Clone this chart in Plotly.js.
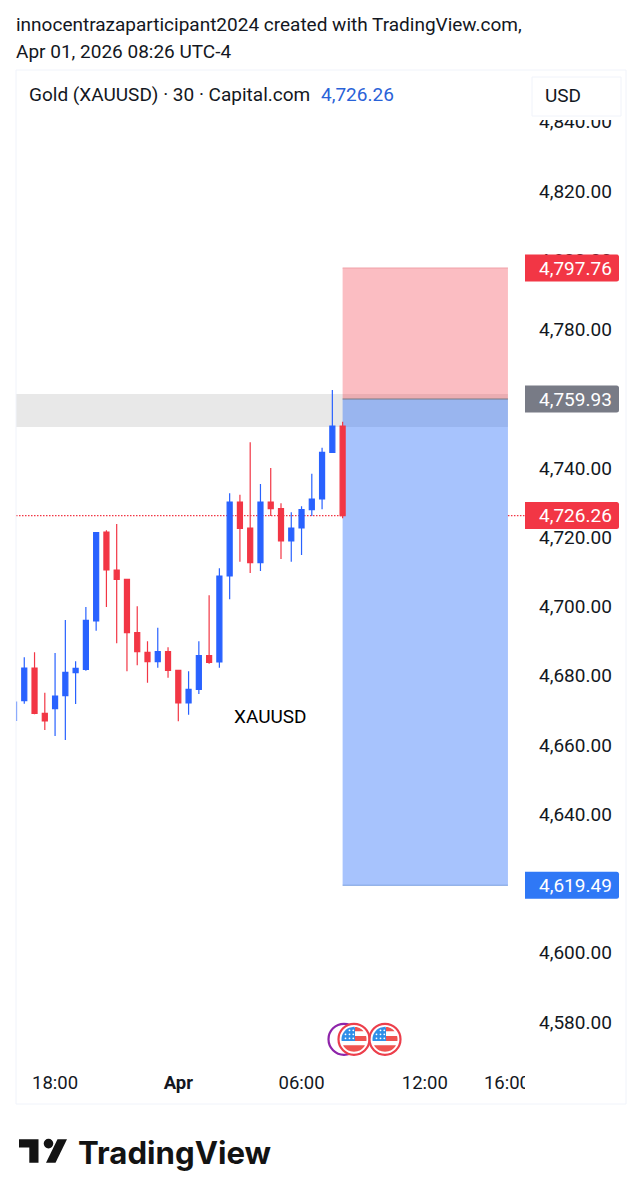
<!DOCTYPE html>
<html>
<head>
<meta charset="utf-8">
<script src="https://cdn.plot.ly/plotly-3.0.1.min.js"></script>
<style>html,body{margin:0;padding:0;background:#fff}#chart{width:642px;height:1200px}</style>
</head>
<body>
<div id="chart"></div>
<script>
// ---- data ----
const times = [
 "2026-03-31 16:00","2026-03-31 16:30","2026-03-31 17:00","2026-03-31 17:30","2026-03-31 18:00","2026-03-31 18:30",
 "2026-03-31 19:00","2026-03-31 19:30","2026-03-31 20:00","2026-03-31 20:30","2026-03-31 21:00","2026-03-31 21:30",
 "2026-03-31 22:00","2026-03-31 22:30","2026-03-31 23:00","2026-03-31 23:30","2026-04-01 00:00","2026-04-01 00:30",
 "2026-04-01 01:00","2026-04-01 01:30","2026-04-01 02:00","2026-04-01 02:30","2026-04-01 03:00","2026-04-01 03:30",
 "2026-04-01 04:00","2026-04-01 04:30","2026-04-01 05:00","2026-04-01 05:30","2026-04-01 06:00","2026-04-01 06:30",
 "2026-04-01 07:00","2026-04-01 07:30","2026-04-01 08:00"];
const opens = [4667.13,4672.79,4682.24,4669.16,4670.48,4674.24,4680.88,4681.86,4695.81,4721.52,4710.54,4707.86,4692.43,4686.77,4684.06,4686.95,4681.57,4672.13,4676.09,4685.79,4683.97,4708.81,4730.18,4722.67,4712.65,4730.18,4728.25,4718.92,4722.67,4727.96,4731.05,4744.53,4752.13];
const highs = [4672.42,4685.33,4686.77,4675.10,4686.57,4696.10,4684.17,4699.86,4721.52,4722.01,4723.83,4707.86,4700.06,4689.95,4693.88,4688.22,4681.57,4681.29,4689.95,4703.23,4711.03,4732.69,4732.29,4747.42,4735.38,4740.00,4729.80,4727.20,4728.94,4738.35,4745.86,4762.53,4753.37];
const lows  = [4667.13,4671.93,4668.87,4664.33,4662.60,4661.44,4671.84,4681.46,4693.01,4699.86,4689.37,4681.29,4683.02,4677.99,4682.33,4679.44,4666.84,4668.75,4674.73,4683.48,4682.33,4702.08,4712.94,4709.67,4710.25,4726.14,4713.72,4712.94,4714.87,4726.14,4728.07,4744.53,4725.47];
const closes= [4672.42,4682.24,4669.16,4666.93,4674.15,4681.00,4682.15,4696.01,4721.31,4710.54,4707.86,4692.43,4686.95,4684.06,4686.95,4681.57,4672.13,4676.09,4685.79,4683.88,4708.81,4730.18,4722.58,4712.65,4730.18,4728.25,4718.92,4722.67,4727.96,4731.05,4744.53,4752.13,4726.26];
const priceTicks = [4580,4600,4620,4640,4660,4680,4700,4720,4740,4760,4780,4800,4820,4840];
const timeTickVals = ["2026-03-31 18:00","2026-04-01 00:00","2026-04-01 06:00","2026-04-01 12:00","2026-04-01 16:00"];
const timeTickText = ["18:00","<b>Apr</b>","06:00","12:00","16:00"];
const lastPrice = 4726.26, stopPrice = 4797.76, entryPrice = 4759.93, targetPrice = 4619.49;
const zoneTop = 4761.37, zoneBottom = 4751.84;
const posStart = "2026-04-01 08:00", posEnd = "2026-04-01 16:03";
const viewRange = ["2026-03-31 16:05:51","2026-04-01 16:52:48"];
const priceRange = [4567.58,4854.95];

// ---- helpers: page pixels to paper fractions ----
const W = 642, H = 1200;
const px = x => x / W, py = y => 1 - y / H;
const font = "Roboto, sans-serif", ink = "#131722", blue = "#2962ff", red = "#f23645";

function poly(pts, fill, line){
  const d = pts.map((p,i)=>(i?"L":"M")+px(p[0])+","+py(p[1])).join(" ")+" Z";
  return {type:"path",xref:"paper",yref:"paper",path:d,fillcolor:fill,line:line||{width:0},layer:"above"};
}
function circle(cx,cy,r,fill,lc,lw){
  return {type:"circle",xref:"paper",yref:"paper",x0:px(cx-r),x1:px(cx+r),y0:py(cy+r),y1:py(cy-r),
          fillcolor:fill,line:{color:lc,width:lw||0},layer:"above"};
}
function band(cx,cy,r,y0,y1,x0,x1,fill){
  const pts=[];const n=14;
  for(let i=0;i<=n;i++){const y=y0+(y1-y0)*i/n;const h=Math.sqrt(Math.max(0,r*r-y*y));pts.push([cx+Math.min(x1,h),cy+y]);}
  for(let i=n;i>=0;i--){const y=y0+(y1-y0)*i/n;const h=Math.sqrt(Math.max(0,r*r-y*y));pts.push([cx+Math.max(x0,-h),cy+y]);}
  return poly(pts,fill);
}
function flag(cx,cy){
  const out=[circle(cx,cy,15.5,"#ffffff","#ec3f4c",2.2)];
  const r=12.5, st="#ef5350", can="#2f8fe8";
  out.push(band(cx,cy,r,-12.5,-8,1,13,st));
  out.push(band(cx,cy,r,-3.2,1.8,1,13,st));
  out.push(band(cx,cy,r,6,12.5,-13,13,st));
  out.push(band(cx,cy,r,-12.5,1.8,-13,1,can));
  [-9,-5,-1].forEach(dy=>[-8.5,-4.5,-0.7].forEach(dx=>{ if(dx*dx+dy*dy<130) out.push(circle(cx+dx,cy+dy,0.9,"#ffffff","#ffffff",0)); }));
  return out;
}
function priceTag(price,fill){
  const w=94,h=27,r=2.5;
  const p=`M${r},${-h/2} L${w-r},${-h/2} Q${w},${-h/2} ${w},${-h/2+r} L${w},${h/2-r} Q${w},${h/2} ${w-r},${h/2} L${r},${h/2} L0,${h/2} L0,${-h/2} Z`;
  return {type:"path",xsizemode:"pixel",ysizemode:"pixel",xref:"paper",yref:"y",xanchor:px(525),yanchor:price,path:p,fillcolor:fill,line:{width:0},layer:"above"};
}
function tagText(price){
  return {xref:"paper",yref:"y",x:px(575.5),y:price,xanchor:"center",yanchor:"middle",showarrow:false,
          text:price.toLocaleString("en-US",{minimumFractionDigits:2}),font:{family:font,size:19,color:"#ffffff"}};
}
function pageText(x,y,text,size,color,anchor){
  return {xref:"paper",yref:"paper",x:px(x),y:py(y),xanchor:anchor||"left",yanchor:"middle",showarrow:false,align:"left",
          text:text,font:{family:font,size:size,color:color||ink}};
}

const trace = {
  type:"candlestick", x:times, open:opens, high:highs, low:lows, close:closes,
  increasing:{line:{color:blue,width:1.2},fillcolor:blue},
  decreasing:{line:{color:red,width:1.2},fillcolor:red},
  whiskerwidth:0, hoverinfo:"skip", showlegend:false
};

const priceLine = {color:"#f23645",width:1.4,dash:"1.5px,1.5px"};
const shapes = [
  // last price line, hidden behind the position box
  {type:"line",xref:"x",yref:"y",x0:viewRange[0],x1:posStart,y0:lastPrice,y1:lastPrice,line:priceLine,layer:"below"},
  {type:"line",xref:"x",yref:"y",x0:posEnd,x1:viewRange[1],y0:lastPrice,y1:lastPrice,line:priceLine,layer:"below"},
  // grey zone
  {type:"rect",xref:"x",yref:"y",x0:viewRange[0],x1:posEnd,y0:zoneBottom,y1:zoneTop,fillcolor:"#e8e8e8",line:{width:0},layer:"below"},
  // short position: stop and target
  {type:"rect",xref:"x",yref:"y",x0:posStart,x1:posEnd,y0:entryPrice,y1:stopPrice,fillcolor:"rgba(242,54,69,0.33)",line:{width:0},layer:"below"},
  {type:"rect",xref:"x",yref:"y",x0:posStart,x1:posEnd,y0:targetPrice,y1:entryPrice,fillcolor:"rgba(41,110,250,0.41)",line:{width:0},layer:"below"},
  {type:"line",xref:"x",yref:"y",x0:posStart,x1:posEnd,y0:entryPrice,y1:entryPrice,line:{color:"#787b86",width:1},layer:"below"},
  {type:"line",xref:"x",yref:"y",x0:posStart,x1:posEnd,y0:targetPrice,y1:targetPrice,line:{color:"#7a9fe0",width:1},layer:"below"},
  {type:"line",xref:"x",yref:"y",x0:posStart,x1:posEnd,y0:stopPrice,y1:stopPrice,line:{color:"#f0a0a8",width:1},layer:"below"},
  // masks clipping axis text
  {type:"rect",xref:"paper",yref:"paper",x0:px(525),x1:px(534),y0:py(1095),y1:py(1068),fillcolor:"#ffffff",line:{width:0},layer:"above"},
  {type:"rect",xref:"paper",yref:"paper",x0:px(527),x1:px(625),y0:py(120),y1:py(72),fillcolor:"#ffffff",line:{width:0},layer:"above"},
  // USD button
  {type:"rect",xref:"paper",yref:"paper",x0:px(532),x1:px(621),y0:py(116),y1:py(77),fillcolor:"#ffffff",line:{color:"#f0f3fa",width:1},layer:"above"},
  // frame
  {type:"rect",xref:"paper",yref:"paper",x0:px(16),x1:px(626),y0:py(1104),y1:py(70),fillcolor:"rgba(0,0,0,0)",line:{color:"#f0f3fa",width:1},layer:"above"},
  // price tags
  priceTag(stopPrice,red), priceTag(entryPrice,"#787b86"), priceTag(lastPrice,red), priceTag(targetPrice,"#2f78f6"),
  // event markers
  circle(344,1039.3,15.5,"#ffffff","#8e24aa",2.2),
  ...flag(354,1039.3), ...flag(385,1039.3),
  // TradingView mark
  poly([[19,1139.3],[38.5,1139.3],[38.5,1162.7],[29.3,1162.7],[29.3,1147.5],[19,1147.5]],"#131313"),
  circle(48.5,1143.6,4.8,"#131313","#131313",0),
  poly([[57.5,1139.3],[67,1139.3],[55.5,1162.7],[46,1162.7]],"#131313")
];

const annotations = [
  pageText(14,24.5,"innocentrazaparticipant2024 created with TradingView.com,",19),
  pageText(14,51.5,"Apr 01, 2026 08:26 UTC-4",19),
  pageText(27,95,"Gold (XAUUSD) · 30 · Capital.com",19),
  pageText(319,95,"4,726.26",19,"#2962d8"),
  pageText(543,96,"USD",19),
  pageText(270,716.5,"XAUUSD",19,"#000000","center"),
  tagText(stopPrice),tagText(entryPrice),tagText(lastPrice),tagText(targetPrice),
  {xref:"paper",yref:"paper",x:px(75.5),y:py(1153),xanchor:"left",yanchor:"middle",showarrow:false,
   text:"<b>TradingView</b>",font:{family:"Inter, Roboto, sans-serif",size:31.2,color:"#131313"}}
];

const layout = {
  width:W, height:H, autosize:false,
  paper_bgcolor:"#ffffff", plot_bgcolor:"#ffffff",
  margin:{l:0,r:0,t:0,b:0}, showlegend:false, hovermode:false, dragmode:false,
  xaxis:{domain:[px(16),px(525)],type:"date",range:viewRange,rangeslider:{visible:false},
         tickmode:"array",tickvals:timeTickVals,ticktext:timeTickText,showgrid:false,zeroline:false,showline:false,
         ticks:"",ticklabelstandoff:4,tickangle:0,tickfont:{family:font,size:18.5,color:ink},anchor:"y"},
  yaxis:{domain:[py(1065),py(70)],side:"right",range:priceRange,tickmode:"array",tickvals:priceTicks,tickformat:",.2f",
         showgrid:false,zeroline:false,showline:false,ticks:"",ticklabelstandoff:13,
         tickfont:{family:font,size:19,color:ink},anchor:"x"},
  shapes:shapes, annotations:annotations
};
Plotly.newPlot("chart",[trace],layout,{displayModeBar:false,staticPlot:true,responsive:false});
</script>
</body>
</html>
